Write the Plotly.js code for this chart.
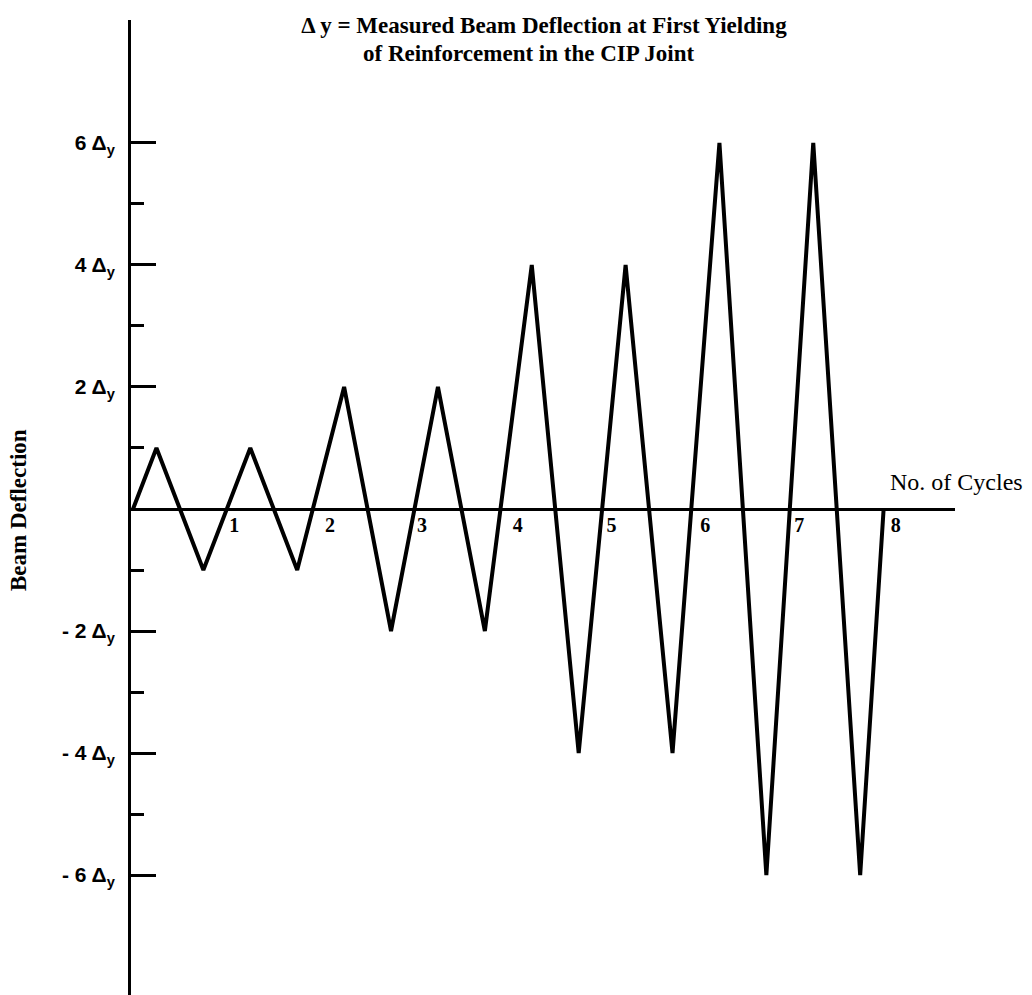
<!DOCTYPE html>
<html>
<head>
<meta charset="utf-8">
<script src="https://cdn.plot.ly/plotly-3.0.1.min.js"></script>
<style>html,body{margin:0;padding:0;background:#fff;}#chart{width:1032px;height:995px;}</style>
</head>
<body>
<div id="chart"></div>
<script>
// Loading history: cycle number vs. beam deflection (multiples of Δy)
const cycles = [0, 0.25, 0.75, 1.25, 1.75, 2.25, 2.75, 3.25, 3.75, 4.25, 4.75, 5.25, 5.75, 6.25, 6.75, 7.25, 7.75, 8];
const deflection = [0, 1, -1, 1, -1, 2, -2, 2, -2, 4, -4, 4, -4, 6, -6, 6, -6, 0];

const yTickVals = [6, 4, 2, -2, -4, -6];
const yTickText = ['6 Δ<sub>y</sub>', '4 Δ<sub>y</sub>', '2 Δ<sub>y</sub>', '- 2 Δ<sub>y</sub>', '- 4 Δ<sub>y</sub>', '- 6 Δ<sub>y</sub>'];
const yMinorVals = [5, 3, 1, -1, -3, -5];

const xTickVals = [1.08, 2.1, 3.08, 4.1, 5.1, 6.1, 7.1, 8.13];
const xTickText = ['1', '2', '3', '4', '5', '6', '7', '8'];

const titleLine1 = 'Δ y = Measured Beam Deflection at First Yielding';
const titleLine2 = 'of Reinforcement in the CIP Joint';
const yLabel = 'Beam Deflection';
const xLabel = 'No. of Cycles';

const serif = 'Liberation Serif, Times New Roman, serif';
const sans = 'Liberation Sans, Arial, sans-serif';

const trace = {
  x: cycles, y: deflection, type: 'scatter', mode: 'lines',
  line: {color: '#000', width: 4}, hoverinfo: 'skip'
};

const layout = {
  width: 1032, height: 995,
  margin: {l: 131, r: 77, t: 20, b: 0},
  paper_bgcolor: '#fff', plot_bgcolor: '#fff',
  showlegend: false,
  title: {
    text: titleLine1,
    font: {family: serif, size: 23, color: '#000', weight: 'bold'},
    x: (544 - 131) / 824, xref: 'paper', xanchor: 'center',
    y: 0.975, yref: 'container', yanchor: 'middle'
  },
  xaxis: {
    range: [-0.0214, 8.7607],
    showgrid: false, zeroline: false,
    showline: true, linecolor: '#000', linewidth: 3,
    anchor: 'free', position: 0.4985,
    tickmode: 'array', tickvals: xTickVals, ticktext: xTickText,
    ticks: '', ticklabelstandoff: -3,
    tickfont: {family: serif, size: 20, color: '#000', weight: 'bold'}
  },
  yaxis: {
    range: [-7.967, 8.016],
    showgrid: false, zeroline: false,
    showline: true, linecolor: '#000', linewidth: 3,
    tickmode: 'array', tickvals: yTickVals, ticktext: yTickText,
    ticks: 'inside', ticklen: 25, tickwidth: 3, tickcolor: '#000',
    ticklabelstandoff: 9,
    tickfont: {family: sans, size: 21, color: '#000', weight: 'bold'},
    minor: {tickmode: 'array', tickvals: yMinorVals, ticks: 'inside', ticklen: 13, tickwidth: 3, tickcolor: '#000'}
  },
  annotations: [
    {text: titleLine2, xref: 'paper', yref: 'paper', x: (528 - 131) / 824, y: (995 - 53) / 975,
     xanchor: 'center', yanchor: 'middle', showarrow: false,
     font: {family: serif, size: 23, color: '#000', weight: 'bold'}},
    {text: xLabel, xref: 'paper', yref: 'paper', x: (956 - 131) / 824, y: (995 - 482) / 975,
     xanchor: 'center', yanchor: 'middle', showarrow: false,
     font: {family: serif, size: 24, color: '#000'}},
    {text: yLabel, xref: 'paper', yref: 'paper', x: (18 - 131) / 824, y: (995 - 510) / 975,
     xanchor: 'center', yanchor: 'middle', showarrow: false, textangle: -90,
     font: {family: serif, size: 23, color: '#000', weight: 'bold'}}
  ]
};

Plotly.newPlot('chart', [trace], layout, {displayModeBar: false, staticPlot: true});
</script>
</body>
</html>
